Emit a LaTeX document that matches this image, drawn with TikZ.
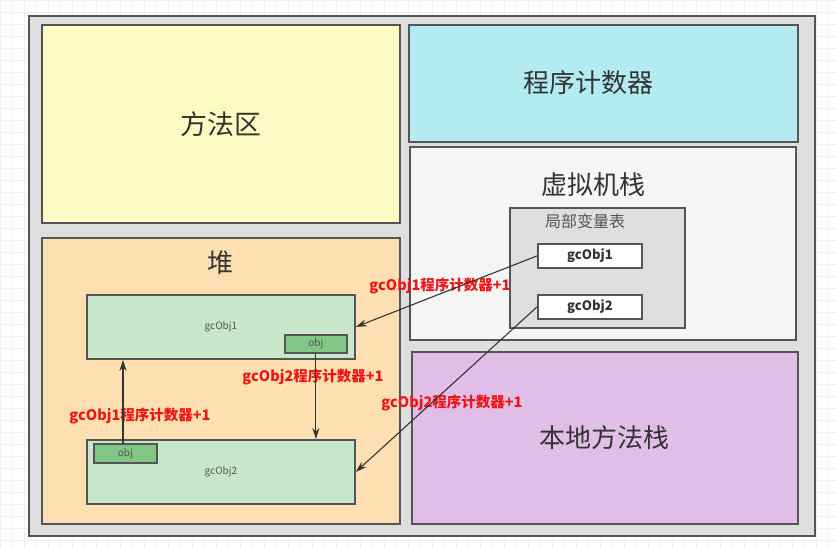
\documentclass[tikz,border=0pt]{standalone}
\usepackage{fontspec}
\setmainfont{Noto Sans CJK SC}
\usetikzlibrary{arrows.meta}
\definecolor{edge}{RGB}{85,85,85}
\definecolor{ink}{RGB}{51,51,51}
\definecolor{framefill}{RGB}{222,222,222}
\definecolor{methodfill}{RGB}{255,249,196}
\definecolor{pcfill}{RGB}{178,235,240}
\definecolor{vmfill}{RGB}{245,245,245}
\definecolor{nativefill}{RGB}{225,190,231}
\definecolor{heapfill}{RGB}{255,224,178}
\definecolor{objfill}{RGB}{200,230,201}
\definecolor{reffill}{RGB}{129,199,132}
\definecolor{hot}{RGB}{240,20,20}
\newcommand{\Lbl}[1]{\textcolor{hot}{#1}}

\begin{document}
\begin{tikzpicture}[x=1pt,y=-1pt,
  area/.style={draw=edge,line width=1.8pt,anchor=north west,inner sep=0pt,text=ink},
  title/.style={text=ink,font=\fontsize{26}{30}\selectfont},
  slot/.style={area,fill=white,minimum width=104pt,minimum height=24pt,font=\bfseries\fontsize{13}{15}\selectfont},
  heapobj/.style={area,fill=objfill,minimum width=268pt,minimum height=64pt,text=edge,font=\fontsize{10}{12}\selectfont},
  ref/.style={area,fill=reffill,text=edge,font=\fontsize{10}{12}\selectfont},
  count/.style={font=\bfseries\fontsize{14.5}{16}\selectfont},
  link/.style={draw=ink,line width=1.1pt,-{Stealth[length=11pt,width=7pt]}}]
  \useasboundingbox (0,0) rectangle (836,549);
  \fill[white] (0,0) rectangle (836,549);
  \draw[black!6,step=12pt] (0,0) grid (836,549);

  \node[area,fill=framefill,minimum width=786pt,minimum height=520pt] (jvm) at (28,15) {};
  \node[area,fill=methodfill,minimum width=358pt,minimum height=198pt,font=\fontsize{27}{30}\selectfont] (method) at (41,24) {方法区};
  \node[area,fill=pcfill,minimum width=389pt,minimum height=117pt] (pc) at (408,24) {};
  \node[title] (pclabel) at (588,83) {程序计数器};
  \node[area,fill=vmfill,minimum width=386pt,minimum height=193pt] (vm) at (409,146) {};
  \node[title] (vmlabel) at (593,185) {虚拟机栈};
  \node[area,fill=heapfill,minimum width=358pt,minimum height=286pt] (heap) at (41,237) {};
  \node[title] (heaplabel) at (220,263) {堆};
  \node[area,fill=nativefill,minimum width=386pt,minimum height=172pt,font=\fontsize{26}{30}\selectfont] (native) at (411,351) {本地方法栈};

  % local variable table
  \node[area,fill=framefill,minimum width=175pt,minimum height=120pt] (locals) at (509,207) {};
  \node[text=edge,font=\fontsize{16}{18}\selectfont] (localslabel) at (585,221) {局部变量表};
  \foreach \n/\y in {1/243,2/294}{
    \node[slot] (lv\n) at (537,\y) {gcObj\n};
  }

  % heap objects
  \node[heapobj] (h1) at (86,294) {gcObj1};
  \node[heapobj] (h2) at (86,439) {gcObj2};
  \node[ref,minimum width=62pt,minimum height=18pt] (o1) at (284,334) {obj};
  \node[ref,minimum width=63pt,minimum height=19pt] (o2) at (93,443) {obj};

  \node[count] (c1) at (440,286) {\Lbl{gcObj1程序计数器+1}};
  \node[count] (c2) at (452,403) {\Lbl{gcObj2程序计数器+1}};
  \node[count] (c3) at (313,377) {\Lbl{gcObj2程序计数器+1}};
  \node[count] (c4) at (140,416) {\Lbl{gcObj1程序计数器+1}};

  \draw[link] (lv1.west) -- (h1.east);
  \draw[link] (lv2.west) -- (h2.east);
  \draw[link] (o1.south) -- (o1.south |- h2.north);
  \draw[link] (o2.north -| 123,0) -- (h1.south -| 123,0);
\end{tikzpicture}
\end{document}
